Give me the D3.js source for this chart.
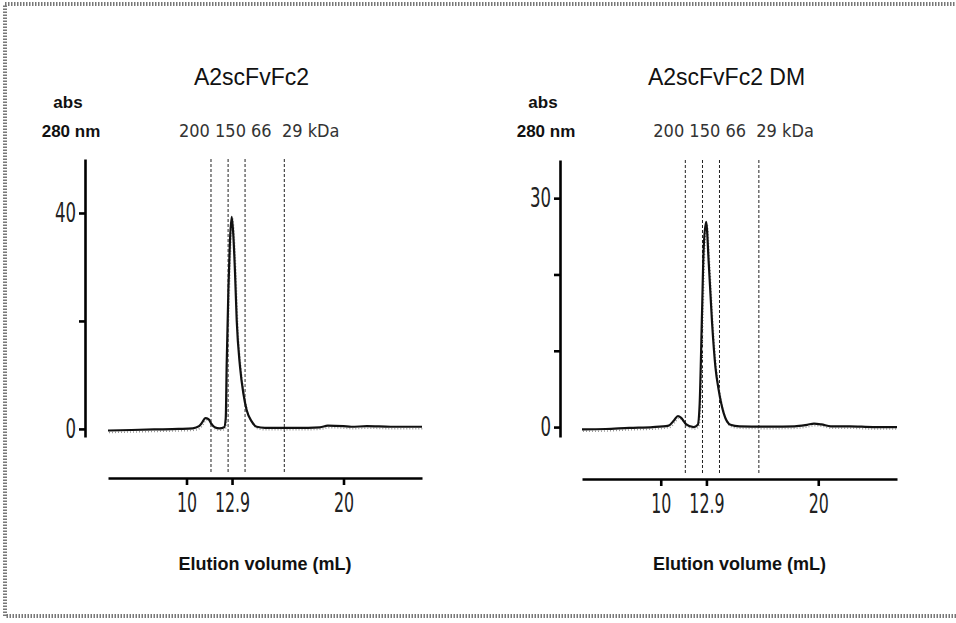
<!DOCTYPE html>
<html>
<head>
<meta charset="utf-8">
<script src="https://cdn.jsdelivr.net/npm/d3@7"></script>
<style>
  body { margin: 0; background: #fff; }
  svg { display: block; }
  .narrow { font-family: "Liberation Sans Narrow", "Arial Narrow", "DejaVu Sans Condensed", sans-serif; }
</style>
</head>
<body>
<div id="chart"></div>
<script>
"use strict"

// elution profile, A2scFvFc2 (mL, abs 280 nm)
var volumesA = [5.0, 6.5, 8.0, 9.5, 10.4, 10.8, 11.0, 11.2, 11.4, 11.6, 11.8, 12.1, 12.4, 12.5, 12.56, 12.67, 12.77, 12.88, 12.98, 13.09, 13.2, 13.41, 13.62, 13.83, 14.15, 14.47, 15.0, 17.0, 18.5, 19.0, 20.0, 20.5, 21.5, 23.0, 25.0];
var absA = [-0.3, -0.2, -0.1, 0.0, 0.1, 0.5, 1.2, 2.0, 1.8, 0.9, 0.3, 0.1, 0.3, 2.0, 12, 26, 35, 39.3, 36, 29, 20, 11.5, 6.6, 3.5, 1.4, 0.4, 0.2, 0.2, 0.3, 0.6, 0.5, 0.4, 0.5, 0.4, 0.4];

// elution profile, A2scFvFc2 DM
var volumesB = [5.0, 6.5, 8.0, 9.5, 10.5, 10.85, 11.09, 11.3, 11.6, 12.09, 12.35, 12.47, 12.62, 12.73, 12.88, 13.05, 13.26, 13.47, 13.68, 14.0, 14.43, 15.0, 17.0, 18.5, 19.3, 19.73, 20.2, 20.8, 22.0, 23.5, 25.0];
var absB = [-0.3, -0.25, -0.1, 0.0, 0.2, 0.9, 1.45, 1.2, 0.4, 0.0, 0.3, 3.0, 14.9, 23.6, 26.9, 21.4, 13.6, 7.9, 4.85, 1.8, 0.3, 0.1, 0.05, 0.1, 0.3, 0.45, 0.35, 0.1, 0.1, 0.0, 0.0];

// size standards
var markerVolumes = [11.56, 12.65, 13.73, 16.23];
var markerText = "200 150 66  29 kDa";

var titles = ["A2scFvFc2", "A2scFvFc2 DM"];
var xTicks = [10, 12.9, 20];
var yTicksA = [0, 20, 40];
var yLabelsA = [0, 40];
var yTicksB = [0, 10, 20, 30];
var yLabelsB = [0, 30];

var svg = d3.select("#chart").append("svg")
    .attr("width", 956)
    .attr("height", 623);

// dotted frame round the figure
svg.append("rect")
    .attr("x", 5).attr("y", 4)
    .attr("width", 960).attr("height", 612)
    .attr("fill", "none")
    .attr("stroke", "#777")
    .attr("stroke-width", 4)
    .attr("stroke-dasharray", "1.5,1.5");

function drawPanel(opt) {
    var x = d3.scaleLinear().domain([5, 25]).range([opt.left, opt.right]);
    var y = d3.scaleLinear().domain(opt.yDomain).range([437, opt.top]);
    var g = svg.append("g");

    // marker lines
    g.selectAll("line.marker")
        .data(markerVolumes)
        .enter().append("line")
        .attr("class", "marker")
        .attr("x1", function(d) { return x(d); })
        .attr("x2", function(d) { return x(d); })
        .attr("y1", opt.top)
        .attr("y2", opt.axisY - 4)
        .attr("stroke", "#222")
        .attr("stroke-width", 1)
        .attr("stroke-dasharray", "3,2");

    g.append("text")
        .attr("class", "narrow")
        .attr("x", x(markerVolumes[0]) - 32)
        .attr("y", 137)
        .attr("font-size", 18)
        .attr("fill", "#333")
        .style("white-space", "pre")
        .text(markerText);

    // trace, with the faint dotted ghost seen in the scan
    var line = d3.line()
        .x(function(d) { return x(d[0]); })
        .y(function(d) { return y(d[1]); })
        .curve(d3.curveMonotoneX);
    var pts = d3.zip(opt.vols, opt.abs);
    g.append("path")
        .datum(pts)
        .attr("d", line)
        .attr("transform", "translate(1,2)")
        .attr("fill", "none")
        .attr("stroke", "#999")
        .attr("stroke-width", 1.5)
        .attr("stroke-dasharray", "1,2");
    g.append("path")
        .datum(pts)
        .attr("d", line)
        .attr("fill", "none")
        .attr("stroke", "#111")
        .attr("stroke-width", 2.2);

    // axes
    var yAxis = g.append("g")
        .attr("transform", "translate(" + opt.axisX + ",0)")
        .call(d3.axisLeft(y).tickValues(opt.yTicks).tickSize(6).tickSizeOuter(0).tickPadding(4)
            .tickFormat(function(d) { return opt.yLabels.indexOf(d) >= 0 ? d : ""; }));
    var xAxis = g.append("g")
        .attr("transform", "translate(0," + opt.axisY + ")")
        .call(d3.axisBottom(x).tickValues(xTicks).tickSize(7).tickSizeOuter(0).tickPadding(9)
            .tickFormat(function(d) { return d; }));
    [yAxis, xAxis].forEach(function(a) {
        a.selectAll("path, line").attr("stroke", "#000").attr("stroke-width", 2.6);
        a.selectAll("text")
            .attr("class", "narrow")
            .attr("font-size", 20)
            .attr("fill", "#222");
    });
    // tall, narrow tick digits as in the scan
    xAxis.selectAll("text")
        .attr("y", 0).attr("dy", "0.71em")
        .attr("transform", "translate(0,15) scale(0.88,1.35)");
    yAxis.selectAll("text")
        .attr("x", 0).attr("dy", "0.32em")
        .attr("transform", "translate(-9,0) scale(0.92,1.35)");

    // titles and labels
    g.append("text")
        .attr("x", (opt.axisX + opt.right) / 2 - 2)
        .attr("y", 85)
        .attr("text-anchor", "middle")
        .attr("font-family", "Liberation Sans, Arial, sans-serif")
        .attr("font-size", 23)
        .attr("fill", "#111")
        .text(opt.title);
    g.append("text")
        .attr("x", opt.axisX - 17)
        .attr("y", 108)
        .attr("text-anchor", "middle")
        .attr("font-family", "Liberation Sans, Arial, sans-serif")
        .attr("font-weight", "bold")
        .attr("font-size", 17)
        .attr("fill", "#111")
        .text("abs");
    g.append("text")
        .attr("x", opt.axisX - 14)
        .attr("y", 137)
        .attr("text-anchor", "middle")
        .attr("font-family", "Liberation Sans, Arial, sans-serif")
        .attr("font-weight", "bold")
        .attr("font-size", 17)
        .attr("fill", "#111")
        .text("280 nm");
    g.append("text")
        .attr("x", (opt.left + opt.right) / 2)
        .attr("y", 570)
        .attr("text-anchor", "middle")
        .attr("font-family", "Liberation Sans, Arial, sans-serif")
        .attr("font-weight", "bold")
        .attr("font-size", 18)
        .attr("fill", "#111")
        .text("Elution volume (mL)");
}

drawPanel({title: titles[0], vols: volumesA, abs: absA, yDomain: [-1.5, 50], yTicks: yTicksA, yLabels: yLabelsA,
    left: 108, right: 422, top: 159, axisX: 85, axisY: 478});
drawPanel({title: titles[1], vols: volumesB, abs: absB, yDomain: [-1.3, 35], yTicks: yTicksB, yLabels: yLabelsB,
    left: 582, right: 897, top: 160, axisX: 560, axisY: 479});
</script>
</body>
</html>
